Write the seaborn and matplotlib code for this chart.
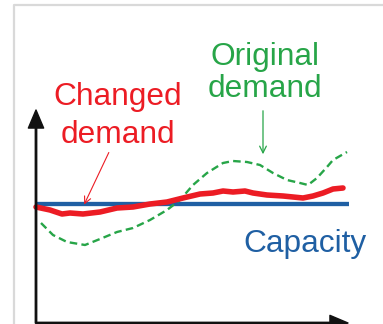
import matplotlib
matplotlib.use("Agg")
import matplotlib.pyplot as plt
import pandas as pd
import seaborn as sns

# Time axis and demand levels (arbitrary units, origin at the axis corner)
changed_t = [0, 14, 26, 34, 47, 64, 81, 97, 114, 131, 147, 164, 177, 187, 197,
             209, 217, 231, 247, 257, 267, 277, 287, 297, 307]
changed_v = [116, 113, 109, 110, 109, 111, 115, 116, 119, 121, 125, 129, 130,
             132, 131, 132, 130, 128, 127, 126, 125, 127, 130, 134, 135]

original_t = [5, 17, 31, 49, 64, 81, 97, 114, 131, 144, 157, 171, 187, 197, 211,
              224, 237, 251, 264, 272, 281, 291, 297, 311]
original_v = [100, 88, 81, 78, 84, 91, 95, 103, 113, 123, 138, 150, 160, 162,
              161, 158, 150, 143, 140, 138, 145, 156, 163, 171]

capacity_t = [0, 313]
capacity_v = [119, 119]

RED = "#ec1c24"
GREEN = "#27a548"
BLUE = "#1f5fa3"

sns.set_theme(style="white")
plt.rcParams["font.family"] = ["Liberation Sans", "DejaVu Sans"]

fig = plt.figure(figsize=(3.83, 3.24), dpi=100)
ax = fig.add_axes([0, 0, 1, 1])

# Slide frame
ax.plot([-22, -22, 347], [-1, 318, 318], color="#d9d9d9", lw=1.6,
        solid_capstyle="butt", clip_on=False)

df_orig = pd.DataFrame({"t": original_t, "v": original_v})
df_chg = pd.DataFrame({"t": changed_t, "v": changed_v})
df_cap = pd.DataFrame({"t": capacity_t, "v": capacity_v})

sns.lineplot(data=df_cap, x="t", y="v", ax=ax, color=BLUE, lw=3.1,
             solid_capstyle="butt", sort=False)
sns.lineplot(data=df_orig, x="t", y="v", ax=ax, color=GREEN, lw=1.7,
             sort=False)
ax.lines[-1].set_dashes((3.2, 1.8))
sns.lineplot(data=df_chg, x="t", y="v", ax=ax, color=RED, lw=4.0,
             sort=False)
ax.set_xlim(-36, 347)
ax.set_ylim(-1, 323)
ax.axis("off")

# Coordinate axes with arrow heads
axis_kw = dict(facecolor="#111111", edgecolor="#111111", width=1.0,
               headwidth=11, headlength=13, shrink=0)
ax.annotate("", xy=(0, 213), xytext=(0, 0), arrowprops=axis_kw)
ax.annotate("", xy=(312, 0), xytext=(0, 0), arrowprops=axis_kw,
            annotation_clip=False)
ax.plot([0, 0], [0, 200], color="#444444", lw=1.1)
ax.plot([0, 300], [0, 0], color="#444444", lw=1.1, clip_on=False)

# Labels
font = dict(fontsize=22.8, ha="center", va="baseline")
ax.text(82, 218, "Changed", color=RED, **font)
ax.text(82, 180, "demand", color=RED, **font)
ax.text(229, 258, "Original", color=GREEN, **font)
ax.text(229, 226, "demand", color=GREEN, **font)
ax.text(269, 71, "Capacity", color=BLUE, **font)

# Pointer arrows
ax.annotate("", xy=(47, 116), xytext=(74, 173),
            arrowprops=dict(arrowstyle="->", color=RED, lw=0.8,
                            mutation_scale=12))
ax.annotate("", xy=(227, 166), xytext=(227, 215),
            arrowprops=dict(arrowstyle="->", color=GREEN, lw=0.9,
                            mutation_scale=12))

fig.savefig("out.png", dpi=100)
